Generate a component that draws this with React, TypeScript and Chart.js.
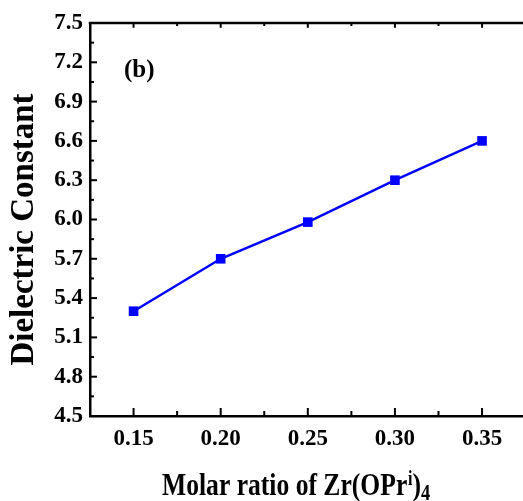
import React, { useEffect, useRef } from "react";
import { Chart, registerables } from "chart.js";

Chart.register(...registerables);

const molarRatio = [0.15, 0.2, 0.25, 0.3, 0.35];
const dielectric = [5.3, 5.7, 5.98, 6.3, 6.6];
const xTicks = [0.15, 0.2, 0.25, 0.3, 0.35];
const xMinorTicks = [0.175, 0.225, 0.275, 0.325];
const yTicks = [4.5, 4.8, 5.1, 5.4, 5.7, 6.0, 6.3, 6.6, 6.9, 7.2, 7.5];
const yMinorTicks = [4.65, 4.95, 5.25, 5.55, 5.85, 6.15, 6.45, 6.75, 7.05, 7.35];
const panelLabel = "(b)";
const yTitle = "Dielectric Constant";
const xTitleMain = "Molar ratio of Zr(OPr";
const xTitleSup = "i";
const xTitleParen = ")";
const xTitleSub = "4";

const FONT = "'Liberation Serif', 'Times New Roman', serif";

const decorPlugin = {
  id: "decor",
  afterDraw(chart: any) {
    const { ctx, chartArea, scales } = chart;
    const x = scales.x;
    const y = scales.y;
    ctx.save();
    ctx.strokeStyle = "#000";
    ctx.lineCap = "butt";
    // top frame line
    ctx.lineWidth = 2.5;
    ctx.beginPath();
    ctx.moveTo(chartArea.left - 1.25, chartArea.top);
    ctx.lineTo(chartArea.right, chartArea.top);
    ctx.stroke();
    // ticks
    ctx.lineWidth = 2;
    const tickX = (v: number, len: number) => {
      const px = x.getPixelForValue(v);
      ctx.beginPath();
      ctx.moveTo(px, chartArea.bottom);
      ctx.lineTo(px, chartArea.bottom - len);
      ctx.moveTo(px, chartArea.top);
      ctx.lineTo(px, chartArea.top + len * 0.6);
      ctx.stroke();
    };
    xTicks.forEach((v) => tickX(v, 8));
    xMinorTicks.forEach((v) => tickX(v, 5));
    const tickY = (v: number, len: number) => {
      const py = y.getPixelForValue(v);
      ctx.beginPath();
      ctx.moveTo(chartArea.left, py);
      ctx.lineTo(chartArea.left + len, py);
      ctx.stroke();
    };
    yTicks.forEach((v) => tickY(v, 7));
    yMinorTicks.forEach((v) => tickY(v, 4));

    // panel label
    ctx.fillStyle = "#000";
    ctx.font = `bold 25px ${FONT}`;
    ctx.textAlign = "left";
    ctx.textBaseline = "alphabetic";
    ctx.fillText(panelLabel, 124, 77);

    // y title (rotated)
    ctx.save();
    ctx.translate(33, (chartArea.top + chartArea.bottom) / 2 + 10);
    ctx.rotate(-Math.PI / 2);
    ctx.font = `bold 33px ${FONT}`;
    ctx.textAlign = "center";
    ctx.textBaseline = "alphabetic";
    ctx.fillText(yTitle, 0, 0);
    ctx.restore();

    // x title with superscript and subscript, condensed
    ctx.save();
    const sx = 0.8;
    ctx.translate(162, 495);
    ctx.scale(sx, 1);
    ctx.textAlign = "left";
    ctx.textBaseline = "alphabetic";
    ctx.font = `bold 32px ${FONT}`;
    let cx = 0;
    ctx.fillText(xTitleMain, cx, 0);
    cx += ctx.measureText(xTitleMain).width;
    ctx.font = `bold 20px ${FONT}`;
    ctx.fillText(xTitleSup, cx + 1, -10);
    cx += ctx.measureText(xTitleSup).width + 1;
    ctx.font = `bold 32px ${FONT}`;
    ctx.fillText(xTitleParen, cx, 0);
    cx += ctx.measureText(xTitleParen).width;
    ctx.font = `bold 23px ${FONT}`;
    ctx.fillText(xTitleSub, cx, 5);
    ctx.restore();

    ctx.restore();
  },
};

export default function App() {
  const ref = useRef<HTMLCanvasElement | null>(null);
  useEffect(() => {
    if (!ref.current) return;
    const chart = new Chart(ref.current, {
      type: "line",
      data: {
        datasets: [
          {
            data: molarRatio.map((v, i) => ({ x: v, y: dielectric[i] })),
            borderColor: "#0000ff",
            backgroundColor: "#0000ff",
            borderWidth: 2.5,
            pointStyle: "rect",
            pointRadius: 6.8,
            pointHoverRadius: 6.8,
            pointBorderWidth: 0,
            tension: 0,
          },
        ],
      },
      options: {
        responsive: false,
        animation: false,
        layout: { autoPadding: false, padding: { top: 23, left: 0, right: 0, bottom: 0 } },
        plugins: {
          legend: { display: false },
          tooltip: { enabled: false },
          title: { display: false },
        },
        scales: {
          x: {
            type: "linear",
            min: 0.125,
            max: 0.3735,
            grid: { display: false, drawTicks: false },
            border: { display: true, color: "#000", width: 2.5 },
            afterBuildTicks: (scale: any) => {
              scale.ticks = xTicks.map((v) => ({ value: v }));
            },
            afterFit: (scale: any) => {
              scale.height = 85;
              scale.paddingLeft = 0;
              scale.paddingRight = 0;
            },
            ticks: {
              padding: 9,
              color: "#000",
              font: { family: FONT, size: 23, weight: "bold" },
              maxRotation: 0,
              autoSkip: false,
              callback: (v: any) => Number(v).toFixed(2),
            },
          },
          y: {
            type: "linear",
            min: 4.5,
            max: 7.5,
            grid: { display: false, drawTicks: false },
            border: { display: true, color: "#000", width: 2.5 },
            afterBuildTicks: (scale: any) => {
              scale.ticks = yTicks.map((v) => ({ value: v }));
            },
            afterFit: (scale: any) => {
              scale.width = 90;
              scale.paddingTop = 0;
              scale.paddingBottom = 0;
            },
            ticks: {
              padding: 7,
              color: "#000",
              font: { family: FONT, size: 23, weight: "bold" },
              autoSkip: false,
              callback: (v: any) => Number(v).toFixed(1),
            },
          },
        },
      },
      plugins: [decorPlugin],
    } as any);
    return () => chart.destroy();
  }, []);
  return (
    <canvas
      ref={ref}
      width={523}
      height={501}
      style={{ position: "absolute", left: 0, top: 0, display: "block", background: "#fff" }}
    />
  );
}
